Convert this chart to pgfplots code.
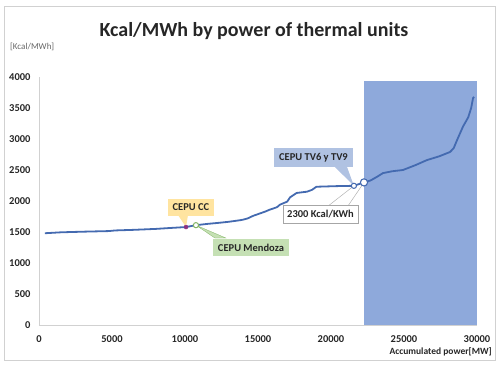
\documentclass[border=0pt]{standalone}
\usepackage{fontspec}
\setmainfont{Carlito}
\usepackage{pgfplots}
\pgfplotsset{compat=1.18}
\definecolor{linec}{RGB}{68,106,176}
\definecolor{shade}{RGB}{142,169,219}
\definecolor{ccfill}{RGB}{255,228,160}
\definecolor{mzfill}{RGB}{197,224,180}
\definecolor{mzline}{RGB}{130,180,100}
\definecolor{tvfill}{RGB}{176,194,226}
\definecolor{txt}{RGB}{38,38,38}
\definecolor{ccmark}{RGB}{140,50,130}
\begin{document}
\begin{tikzpicture}
\useasboundingbox (0pt,0pt) rectangle (499pt,368pt);
\draw[black!18] (4pt,8pt) rectangle (495pt,362pt);
\node[anchor=base, font=\bfseries\fontsize{20}{24}\selectfont, text=txt] at (254pt,331pt) {Kcal/MWh by power of thermal units};
\node[anchor=west, font=\fontsize{9}{11}\selectfont, text=black!60, inner sep=0pt] at (10pt,321pt) {[Kcal/MWh]};
\begin{axis}[at={(39pt,43pt)}, anchor=origin, scale only axis,
  width=438pt, height=248pt,
  xmin=0, xmax=30000, ymin=0, ymax=4000,
  axis x line*=bottom, axis y line*=left,
  axis line style={black!18,-},
  major tick length=0pt,
  xtick={0,5000,...,30000}, ytick={0,500,...,4000},
  scaled ticks=false,
  /pgf/number format/.cd, 1000 sep={}, assume math mode=true, /pgfplots/.cd,
  ticklabel style={font=\bfseries\fontsize{10.5}{12}\selectfont, text=txt},
  xticklabel style={yshift=-7pt},
  yticklabel style={xshift=-5pt},
  clip=false]
\addplot[fill=shade, draw=none] coordinates {(22260,3940) (30000,3940)} \closedcycle;
\addplot[linec, line width=1.8pt, line join=round] coordinates {
(400,1480) (1500,1495) (3000,1505) (4800,1515) (5200,1525) (6500,1535) (8000,1550) (9000,1565) (10070,1580)
(10750,1610) (11500,1630) (12400,1650) (13000,1665) (13770,1690) (14000,1700) (14300,1720) (14660,1760)
(15140,1800) (15500,1830) (15800,1860) (16300,1900) (16500,1940) (16700,1960) (17000,1990) (17200,2060)
(17650,2130) (18350,2150) (18700,2180) (19000,2230) (20400,2240) (21570,2245) (22260,2300) (22700,2330)
(23150,2390) (23560,2450) (24200,2480) (24930,2500) (25800,2580) (26570,2660) (27400,2720) (28150,2790)
(28400,2850) (28630,2980) (29040,3200) (29400,3350) (29600,3500) (29730,3660) (29800,3680)};
% callout pointers
\fill[ccfill] (axis cs:9520,1774) -- (axis cs:10205,1774) -- (axis cs:10070,1580) -- cycle;
\fill[tvfill] (axis cs:20270,2548) -- (axis cs:21100,2548) -- (axis cs:21570,2245) -- cycle;
\fill[mzfill, draw=mzline, line width=0.3pt] (axis cs:10750,1610) -- (axis cs:12050,1403) -- (axis cs:12800,1403) -- cycle;
\draw[black!30, line width=0.5pt] (axis cs:19800,1919) -- (axis cs:21570,2245);
\draw[black!30, line width=0.5pt] (axis cs:21160,1919) -- (axis cs:22260,2300);
% markers
\addplot[only marks, mark=*, mark size=2pt, mark options={fill=ccmark, draw=ccmark}] coordinates {(10070,1580)};
\addplot[only marks, mark=*, mark size=2.6pt, mark options={fill=white, draw=mzline, line width=1pt}] coordinates {(10750,1610)};
\addplot[only marks, mark=*, mark size=2.6pt, mark options={fill=white, draw=linec, line width=1pt}] coordinates {(21570,2245)};
\addplot[only marks, mark=*, mark size=3.6pt, mark options={fill=white, draw=linec, line width=1.1pt}] coordinates {(22260,2300)};
% boxes
\tikzset{cbox/.style={font=\bfseries\fontsize{10.5}{12}\selectfont, text=txt, inner xsep=5pt, inner ysep=2pt, minimum height=17pt}}
\node[cbox, fill=ccfill] at (axis cs:10410,1895) {CEPU CC};
\node[cbox, fill=mzfill] at (axis cs:14520,1250) {CEPU Mendoza};
\node[cbox, fill=tvfill, minimum height=19pt] at (axis cs:18800,2702) {CEPU TV6 y TV9};
\node[cbox, fill=white, draw=black!35, line width=0.4pt, inner xsep=4pt, minimum height=18pt] at (axis cs:19280,1782) {2300 Kcal/KWh};
\end{axis}
\node[anchor=east, font=\bfseries\fontsize{9.5}{11}\selectfont, text=txt, inner sep=0pt] at (492pt,16pt) {Accumulated power[MW]};
\end{tikzpicture}
\end{document}
